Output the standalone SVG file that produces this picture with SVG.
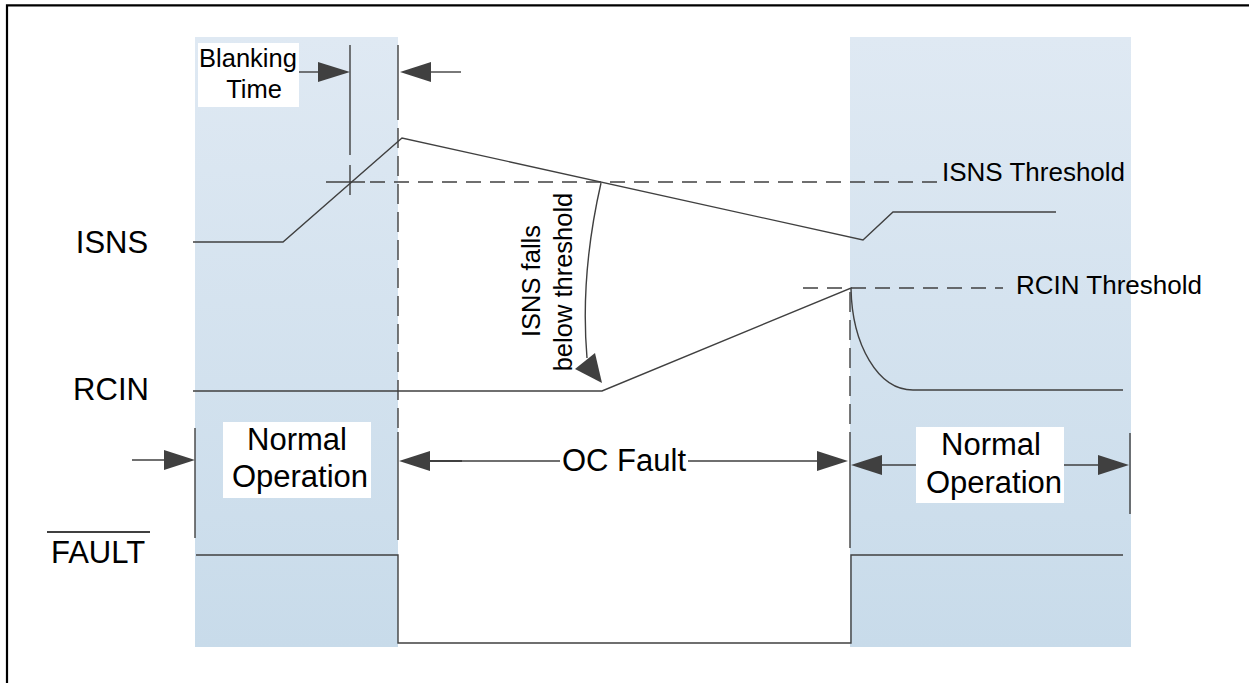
<svg xmlns="http://www.w3.org/2000/svg" width="1249" height="683" viewBox="0 0 1249 683">
<style>
.sig{fill:none;stroke:#404040;stroke-width:1.4}
.dash{fill:none;stroke:#404040;stroke-width:1.4;stroke-dasharray:15 9}
.vdash{fill:none;stroke:#404040;stroke-width:1.4;stroke-dasharray:20 8}
.dim{fill:none;stroke:#404040;stroke-width:1.4}
.ah{fill:#404040;stroke:none}
.big{font-family:"Liberation Sans",Arial,sans-serif;font-size:31px;fill:#000}
.small{font-family:"Liberation Sans",Arial,sans-serif;font-size:25.5px;fill:#000}
.thr{font-family:"Liberation Sans",Arial,sans-serif;font-size:26px;fill:#000}
.box{fill:#fff;stroke:none}
</style>
<defs>
<linearGradient id="shade" x1="0" y1="0" x2="0" y2="1">
<stop offset="0" stop-color="#dfe9f3"/>
<stop offset="1" stop-color="#c8dbea"/>
</linearGradient>
</defs>
<rect x="0" y="0" width="1249" height="683" fill="#fff"/>
<path d="M7,700 V5.3 H1260" fill="none" stroke="#000" stroke-width="2.2"/>

<g id="shade-left"><rect x="195" y="37" width="203" height="610" fill="url(#shade)"/></g>
<g id="shade-right"><rect x="850" y="37" width="281" height="610" fill="url(#shade)"/></g>

<g id="signal-labels">
<text class="big" x="112" y="253" text-anchor="middle">ISNS</text>
<text class="big" x="111" y="400" text-anchor="middle">RCIN</text>
<text class="big" x="98" y="563" text-anchor="middle">FAULT</text>
<line x1="47" y1="532" x2="150" y2="532" stroke="#000" stroke-width="1.5"/>
</g>

<g id="isns-signal">
<path class="sig" d="M193,242 H283 L402,138 L863,240 L893,212 H1056"/>
</g>
<g id="rcin-signal">
<path class="sig" d="M193,391 H602 L851,288 C852,345 878,390 913,390 H1123"/>
</g>
<g id="fault-signal">
<path class="sig" d="M196,555 H398 V643 H851 V555 H1123"/>
</g>

<g id="isns-threshold">
<path class="sig" d="M326,182 H365"/>
<path class="dash" d="M370,182 H938"/>
<text class="thr" x="942" y="181">ISNS Threshold</text>
</g>
<g id="rcin-threshold">
<path class="dash" d="M803,288 H1003"/>
<text class="thr" x="1016" y="294">RCIN Threshold</text>
</g>

<g id="blanking-label">
<rect class="box" x="198" y="43" width="101" height="64"/>
<text class="small" x="248" y="67" text-anchor="middle">Blanking</text>
<text class="small" x="254" y="98" text-anchor="middle">Time</text>
</g>

<g id="normal-left">
<rect class="box" x="223" y="422" width="148" height="76"/>
<text class="big" x="297" y="450" text-anchor="middle">Normal</text>
<text class="big" x="300" y="487" text-anchor="middle">Operation</text>
</g>
<g id="normal-right">
<rect class="box" x="916" y="427" width="148" height="76"/>
<text class="big" x="991" y="455" text-anchor="middle">Normal</text>
<text class="big" x="994" y="493" text-anchor="middle">Operation</text>
</g>
<g id="oc-fault">
<text class="big" x="624" y="471" text-anchor="middle">OC Fault</text>
</g>
<g id="isns-falls-label">
<text class="small" x="540" y="281" text-anchor="middle" transform="rotate(-90 540 281)">ISNS falls</text>
<text class="small" x="572" y="282" text-anchor="middle" transform="rotate(-90 572 282)">below threshold</text>
</g>

<g id="connectors">
<path class="dim" d="M350,45 V155 M350,165 V195"/>
<path class="dim" d="M398,45 V120"/>
<path class="vdash" d="M398,128 V428"/>
<path class="dim" d="M398,432 V540"/>
<path class="vdash" d="M850,292 V426"/>
<path class="dim" d="M850,432 V548"/>
<path class="dim" d="M195,428 V538"/>
<path class="dim" d="M1130,433 V514"/>
<path class="dim" d="M299,72 H320"/>
<polygon class="ah" points="350,72 318,62 318,82"/>
<path class="dim" d="M430,72 H461"/>
<polygon class="ah" points="400,72 431,62 431,82"/>
<path class="dim" d="M132,460 H166"/>
<polygon class="ah" points="195,460 164,450 164,470"/>
<path class="dim" d="M428,461 H560 M688,461 H820"/>
<path d="M430,461 H462" stroke="#404040" stroke-width="2"/>
<polygon class="ah" points="399,461 430,451 430,471"/>
<polygon class="ah" points="848,461 817,451 817,471"/>
<path class="dim" d="M880,465 H916 M1064,465 H1100"/>
<polygon class="ah" points="851,465 882,455 882,475"/>
<polygon class="ah" points="1129,465 1098,455 1098,475"/>
<path class="sig" d="M601,183 Q580,275 587,358"/>
<polygon class="ah" points="602,383 575,369 595,353"/>
</g>
</svg>
